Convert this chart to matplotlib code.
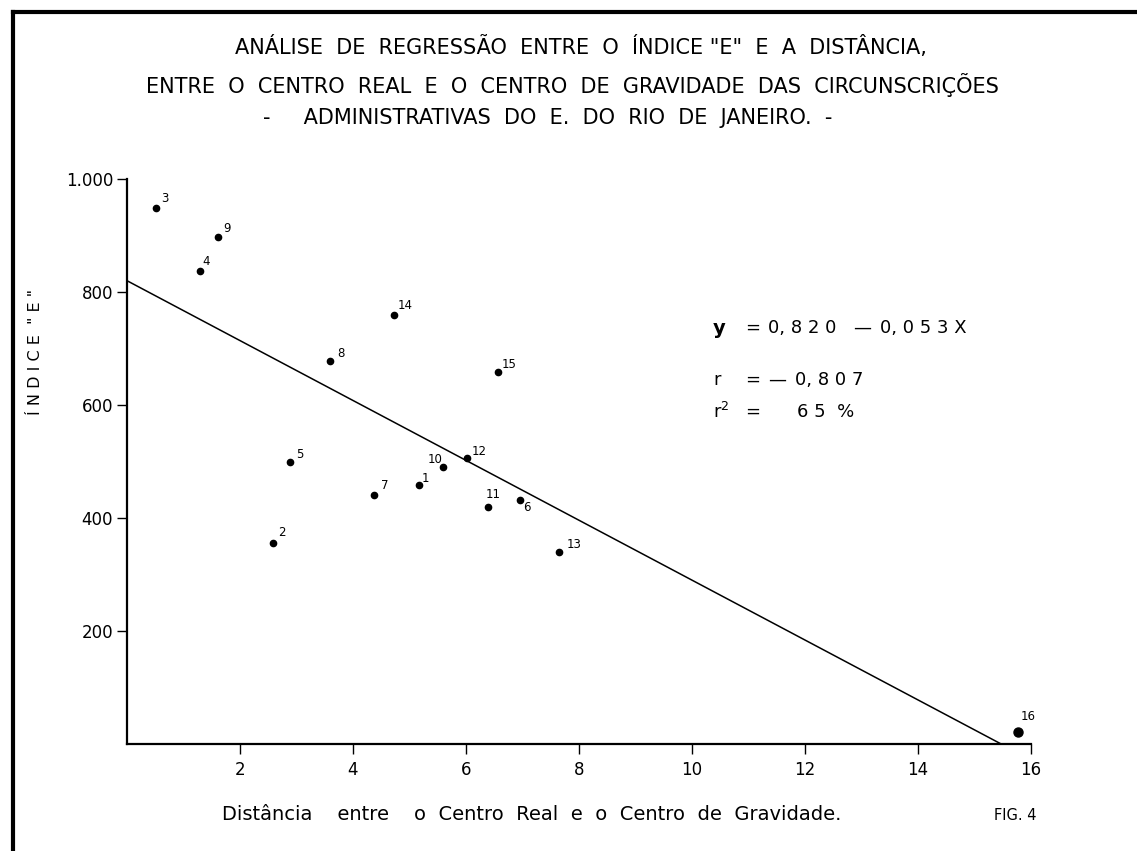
import matplotlib
matplotlib.use("Agg")
import matplotlib.pyplot as plt
from matplotlib.lines import Line2D

# ---- Data ---- #
point_ids = ["1", "2", "3", "4", "5", "6", "7", "8", "9", "10", "11", "12", "13", "14", "15", "16"]
dist_x = [5.16, 2.59, 0.51, 1.29, 2.88, 6.96, 4.38, 3.60, 1.61, 5.59, 6.39, 6.02, 7.65, 4.72, 6.57, 15.77]
indice_e = [459, 355, 948, 837, 499, 431, 441, 677, 897, 491, 420, 506, 340, 760, 658, 21]
# label offsets (pixels, right / up) of each number from its dot
label_dx = [7, 9, 9, 6, 10, 7, 10, 11, 9, -8, 5, 12, 15, 11, 11, 10]
label_dy = [6, 11, 10, 10, 8, -7, 9, 8, 9, 7, 12, 7, 7, 9, 8, 16]

intercept = 820
slope = -53

x_ticks = [2, 4, 6, 8, 10, 12, 14, 16]
x_ticklabels = ["2", "4", "6", "8", "10", "12", "14", "16"]
y_ticks = [200, 400, 600, 800, 1000]
y_ticklabels = ["200", "400", "600", "800", "1.000"]

W, H = 1137, 851
fig = plt.figure(figsize=(W / 100, H / 100), dpi=100)
ax = fig.add_axes([127 / W, 1 - 744 / H, (1031 - 127) / W, (744 - 179) / H])

# scatter points (16 is drawn a bit bigger)
sizes = [4.5] * (len(dist_x) - 1) + [6.5]
for x, y, s in zip(dist_x, indice_e, sizes):
    ax.plot(x, y, "o", color="black", markersize=s, clip_on=False)

for pid, x, y, dx, dy in zip(point_ids, dist_x, indice_e, label_dx, label_dy):
    ax.annotate(pid, (x, y), xytext=(dx * 0.72, dy * 0.72), textcoords="offset points",
                ha="center", va="center", fontsize=8.5, color="black")

# regression line, from x = 0 down to where it meets the axis
x_end = -intercept / slope
ax.plot([0, x_end], [intercept, intercept + slope * x_end], color="black", lw=1.1)

ax.set_xlim(0, 16)
ax.set_ylim(0, 1000)
for side in ["top", "right"]:
    ax.spines[side].set_visible(False)
for side in ["left", "bottom"]:
    ax.spines[side].set_linewidth(1.6)
ax.set_xticks(x_ticks, x_ticklabels, fontsize=12)
ax.set_yticks(y_ticks, y_ticklabels, fontsize=12)
ax.tick_params(axis="x", direction="out", length=7, width=1.0, pad=5)
ax.tick_params(axis="y", direction="out", length=7, width=1.0, pad=3)

# ---- Texts ---- #
def ftext(px, py, s, **kw):
    fig.text(px / W, 1 - py / H, s, **kw)

ftext(581, 47, 'ANÁLISE  DE  REGRESSÃO  ENTRE  O  ÍNDICE "E"  E  A  DISTÂNCIA,', ha="center", va="center", fontsize=15)
ftext(572, 85, "ENTRE  O  CENTRO  REAL  E  O  CENTRO  DE  GRAVIDADE  DAS  CIRCUNSCRIÇÕES", ha="center", va="center", fontsize=15)
ftext(548, 118, "-     ADMINISTRATIVAS  DO  E.  DO  RIO  DE  JANEIRO.  -", ha="center", va="center", fontsize=15)

ftext(35, 352, 'Í N D I C E  " E "', ha="center", va="center", rotation=90, fontsize=11.5)
ftext(532, 815, "Distância    entre    o  Centro  Real  e  o  Centro  de  Gravidade.", ha="center", va="center", fontsize=14)
ftext(1015, 815, "FIG. 4", ha="center", va="center", fontsize=10.5)

# regression equation block
ftext(713, 328, "y", ha="left", va="center", fontsize=14, fontweight="bold")
ftext(745, 328, "=", ha="left", va="center", fontsize=13)
ftext(768, 328, "0, 8 2 0", ha="left", va="center", fontsize=13)
ftext(853, 328, "—", ha="left", va="center", fontsize=13)
ftext(880, 328, "0, 0 5 3 X", ha="left", va="center", fontsize=13)
ftext(713, 380, "r", ha="left", va="center", fontsize=13)
ftext(745, 380, "=", ha="left", va="center", fontsize=13)
ftext(768, 380, "—", ha="left", va="center", fontsize=13)
ftext(795, 380, "0, 8 0 7", ha="left", va="center", fontsize=13)
ftext(713, 412, "r$^{2}$", ha="left", va="center", fontsize=13)
ftext(745, 412, "=", ha="left", va="center", fontsize=13)
ftext(797, 412, "6 5  %", ha="left", va="center", fontsize=13)

# page frame (top and left edges of the scanned sheet)
fig.add_artist(Line2D([13 / W, 1], [1 - 12 / H, 1 - 12 / H], color="black", lw=3, transform=fig.transFigure))
fig.add_artist(Line2D([13 / W, 13 / W], [1 - 12 / H, 0], color="black", lw=3, transform=fig.transFigure))

fig.savefig("out.png", dpi=100)
